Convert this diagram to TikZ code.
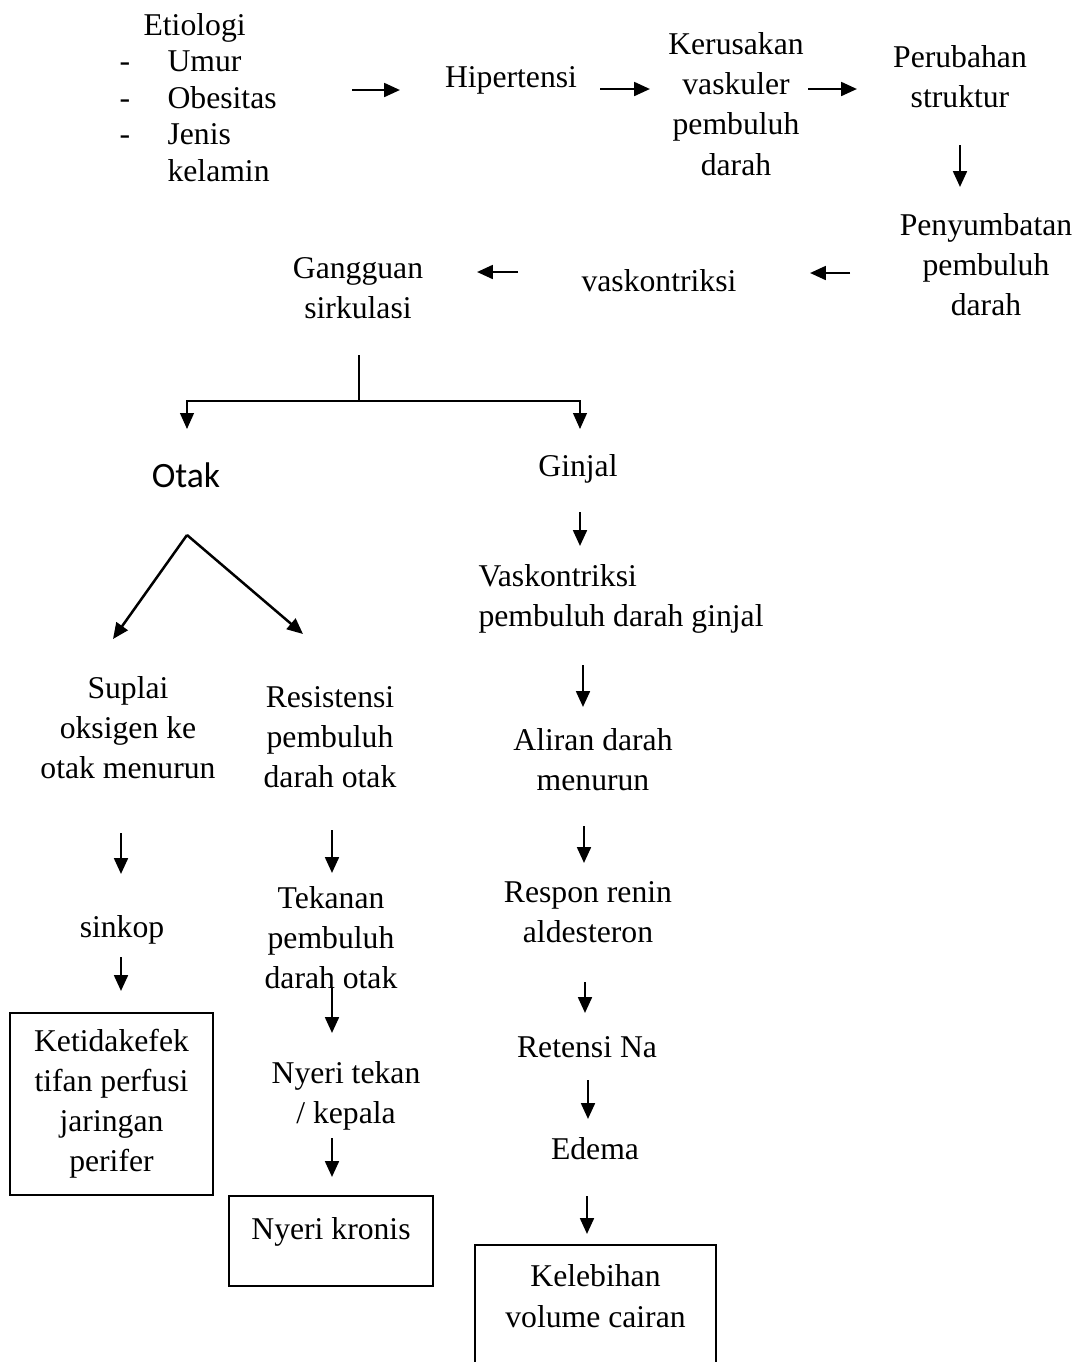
\documentclass[tikz,border=0pt]{standalone}
\usepackage{fontspec}
\setmainfont{Liberation Serif}
\newfontfamily\otakfont{Carlito}
\usetikzlibrary{arrows.meta}
\tikzset{
  txt/.style={inner sep=0pt, align=center, font=\fontsize{12}{15.2}\selectfont},
  tip/.style={-{Triangle[length=6pt,width=5.2pt]}},
  arr/.style={line width=0.95pt, tip},
  thin/.style={line width=0.6pt},
  boxed/.style={draw, line width=0.8pt, inner sep=0pt}
}
\begin{document}
\begin{tikzpicture}[x=0.3788pt,y=-0.3788pt]
\useasboundingbox (0,0) rectangle (1082,1362);
% text nodes
\node[anchor=west, inner sep=0pt, font=\fontsize{12}{13.8}\selectfont] (etio) at (119,101)
  {\begin{tabular}{@{}p{18.2pt}@{}l@{}}
   \multicolumn{2}{@{}l@{}}{\hspace{9.1pt}Etiologi}\\
   -&Umur\\ -&Obesitas\\ -&Jenis\\ &kelamin
   \end{tabular}};
\node[txt] (hip) at (511,80) {Hipertensi};
\node[txt] (ker) at (736,104) {Kerusakan\\vaskuler\\pembuluh\\darah};
\node[txt] (per) at (960,77) {Perubahan\\struktur};
\node[txt] (pen) at (986,265) {Penyumbatan\\pembuluh\\darah};
\node[txt] (vask) at (659,281) {vaskontriksi};
\node[txt] (gang) at (358,288) {Gangguan\\sirkulasi};
\node[txt, font=\otakfont\fontsize{13.5}{15}\selectfont] (otak) at (186,475) {Otak};
\node[txt] (ginjal) at (578,469) {Ginjal};
\node[txt, anchor=west, align=left] (vpg) at (478,599) {Vaskontriksi\\pembuluh darah ginjal};
\node[txt] (aliran) at (593,760) {Aliran darah\\menurun};
\node[txt] (respon) at (588,912) {Respon renin\\aldesteron};
\node[txt] (retensi) at (587,1047) {Retensi Na};
\node[txt] (edema) at (595,1149) {Edema};
\node[txt] (suplai) at (128,728) {Suplai\\oksigen ke\\otak menurun};
\node[txt] (resis) at (330,737) {Resistensi\\pembuluh\\darah otak};
\node[txt] (sinkop) at (122,930) {sinkop};
\node[txt] (tekanan) at (331,938) {Tekanan\\pembuluh\\darah otak};
\node[txt] (nyeri) at (346,1096) {Nyeri tekan\\/ kepala};
% boxes
\node[txt, boxed, minimum width=76.9pt, minimum height=68.9pt] (ketid) at (111.5,1104)
  {Ketidakefek\\tifan perfusi\\jaringan\\perifer};
\node[boxed, font=\fontsize{12}{15.2}\selectfont, anchor=north, minimum width=77.3pt,
  text height=16.3pt, text depth=17.8pt] (kronis) at (331,1195) {Nyeri kronis};
\node[boxed, font=\fontsize{12}{15.5}\selectfont, anchor=north, minimum width=91.3pt,
  text height=15.6pt, text depth=44pt] (kelebihan) at (595.5,1244)
  {\begin{tabular}[t]{@{}c@{}}Kelebihan\\volume cairan\end{tabular}};
% arrow end points
\coordinate (a1s) at (352,90);  \coordinate (a1e) at (400,90);
\coordinate (a2s) at (600,89);  \coordinate (a2e) at (650,89);
\coordinate (a3s) at (808,89);  \coordinate (a3e) at (857,89);
\coordinate (a4s) at (960,145); \coordinate (a4e) at (960,187);
\coordinate (a5s) at (850,273); \coordinate (a5e) at (810,273);
\coordinate (a6s) at (518,272); \coordinate (a6e) at (477,272);
\coordinate (gtop) at (359,355); \coordinate (br) at (359,401);
\coordinate (otakin) at (187,429); \coordinate (ginjalin) at (580,429);
\coordinate (a7s) at (580,512);  \coordinate (a7e) at (580,546);
\coordinate (a8s) at (583,665);  \coordinate (a8e) at (583,707);
\coordinate (a9s) at (584,826);  \coordinate (a9e) at (584,863);
\coordinate (a10s) at (585,982); \coordinate (a10e) at (585,1013);
\coordinate (a11s) at (588,1080); \coordinate (a11e) at (588,1119);
\coordinate (a12s) at (587,1196); \coordinate (a12e) at (587,1234);
\coordinate (apex) at (187,535);
\coordinate (dl) at (113,639); \coordinate (dr) at (303,634);
\coordinate (a13s) at (121,833); \coordinate (a13e) at (121,874);
\coordinate (a14s) at (121,957); \coordinate (a14e) at (121,991);
\coordinate (a15s) at (332,830); \coordinate (a15e) at (332,873);
\coordinate (a16s) at (332,988); \coordinate (a16e) at (332,1033);
\coordinate (a17s) at (332,1138); \coordinate (a17e) at (332,1177);
% connectors
\foreach \i in {1,...,17} {\draw[arr] (a\i s) -- (a\i e);}
\draw[thin] (gtop) -- (br);
\draw[thin, tip] (br) -| (otakin);
\draw[thin, tip] (br) -| (ginjalin);
\draw[arr] (apex) -- (dl);
\draw[arr] (apex) -- (dr);
\end{tikzpicture}
\end{document}
